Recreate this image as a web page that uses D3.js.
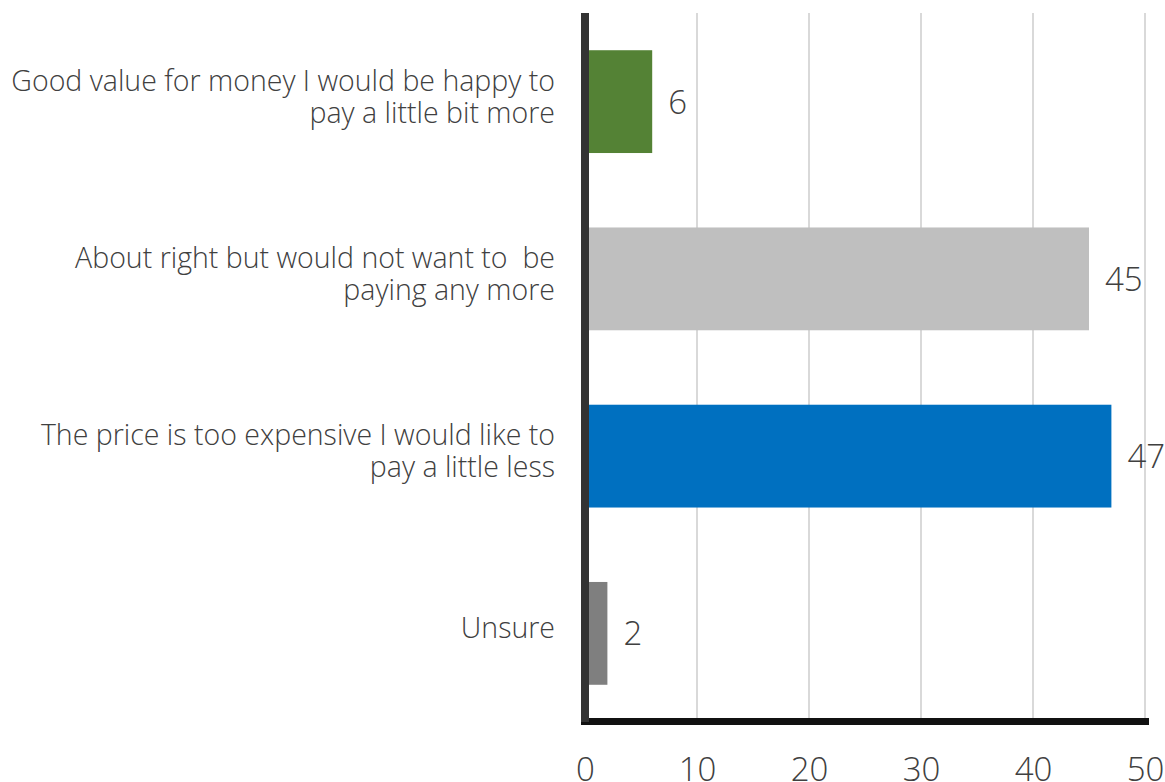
<!DOCTYPE html>
<html>
<head>
<meta charset="utf-8">
<script src="https://cdn.jsdelivr.net/npm/d3@7"></script>
<style>
  html, body { margin: 0; padding: 0; background: #fff; }
  svg { display: block; }
  text { font-family: "Open Sans", "Segoe UI", sans-serif; font-weight: 300; fill: #404040; white-space: pre; }
</style>
</head>
<body>
<svg id="chart" width="1165" height="782"></svg>
<script>
// Survey responses on price perception (percent)
const categories = [
  ["Good value for money I would be happy to", "pay a little bit more"],
  ["About right but would not want to  be", "paying any more"],
  ["The price is too expensive I would like to", "pay a little less"],
  ["Unsure"]
];
const values = [6, 45, 47, 2];
const barColors = ["#548235", "#bfbfbf", "#0070c0", "#7f7f7f"];
const tickValues = [0, 10, 20, 30, 40, 50];

const svg = d3.select("#chart");

const x = d3.scaleLinear().domain([0, 50]).range([585, 1145]);
const y = d3.scaleBand()
  .domain(d3.range(categories.length))
  .range([13, 722])
  .paddingInner(0.42)
  .paddingOuter(0.21);

// vertical gridlines
svg.append("g")
  .selectAll("line")
  .data(tickValues.slice(1))
  .join("line")
  .attr("x1", d => x(d)).attr("x2", d => x(d))
  .attr("y1", 13).attr("y2", 719)
  .attr("stroke", "#d9d9d9")
  .attr("stroke-width", 2);

// bars
svg.append("g")
  .selectAll("rect")
  .data(values)
  .join("rect")
  .attr("x", x(0))
  .attr("y", (d, i) => y(i))
  .attr("width", d => x(d) - x(0))
  .attr("height", y.bandwidth())
  .attr("fill", (d, i) => barColors[i]);

// value labels
svg.append("g")
  .selectAll("text")
  .data(values)
  .join("text")
  .attr("x", d => x(d) + 16)
  .attr("y", (d, i) => y(i) + y.bandwidth() / 2 + 12)
  .attr("font-size", 33)
  .text(d => d);

// category labels
const catG = svg.append("g");
categories.forEach((lines, i) => {
  const cy = y(i) + y.bandwidth() / 2 - 5;
  const lh = 32;
  const t = catG.append("text")
    .attr("text-anchor", "end")
    .attr("font-size", 28.5);
  lines.forEach((ln, j) => {
    t.append("tspan")
      .attr("x", 555)
      .attr("y", cy + 10 + (j - (lines.length - 1) / 2) * lh)
      .text(ln);
  });
});

// x axis with tick labels
const xAxis = d3.axisBottom(x).tickValues(tickValues).tickSize(0).tickPadding(0);
const ax = svg.append("g").attr("transform", "translate(0,721)").call(xAxis);
ax.select(".domain").remove();
ax.selectAll("text")
  .attr("font-size", 33)
  .attr("font-family", "'Open Sans', sans-serif")
  .attr("fill", "#404040")
  .attr("dy", 0)
  .attr("y", 60);

// axis lines
svg.append("line")
  .attr("x1", 581).attr("x2", 1149)
  .attr("y1", 721.5).attr("y2", 721.5)
  .attr("stroke", "#111").attr("stroke-width", 7);
svg.append("line")
  .attr("x1", x(0)).attr("x2", x(0))
  .attr("y1", 13).attr("y2", 722)
  .attr("stroke", "#333").attr("stroke-width", 8);
</script>
</body>
</html>
